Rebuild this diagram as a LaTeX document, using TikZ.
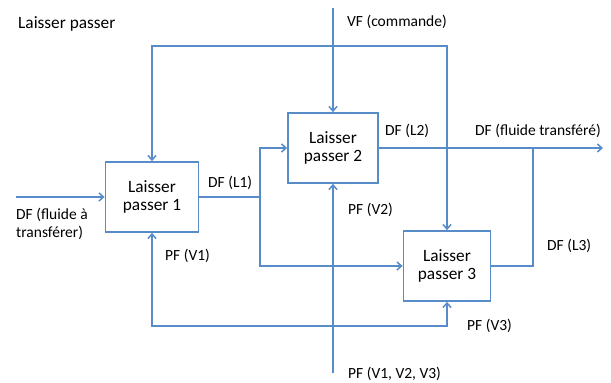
\documentclass[tikz,border=0pt]{standalone}
\usepackage{fontspec}
\setmainfont{Carlito}
\usetikzlibrary{arrows.meta}
\definecolor{lineblue}{RGB}{88,140,200}
\tikzset{
  wire/.style={draw=lineblue, line width=1.8pt},
  arr/.style={wire, -{Straight Barb[length=4.5pt,width=8pt,line width=1.5pt]}},
  barr/.style={wire, {Straight Barb[length=4.5pt,width=8pt,line width=1.5pt]}-{Straight Barb[length=4.5pt,width=8pt,line width=1.5pt]}},
  blk/.style={draw=lineblue, line width=1.8pt, fill=white, inner sep=0pt, align=center, font=\fontsize{17.3}{18.5}\selectfont},
  lbl/.style={anchor=west, inner sep=0pt, font=\fontsize{15.5}{18}\selectfont, align=left},
  ttl/.style={anchor=west, inner sep=0pt, font=\fontsize{17.3}{18.5}\selectfont}
}
\begin{document}
\begin{tikzpicture}[x=1pt,y=-1pt]
\useasboundingbox (0,0) rectangle (611,383);
% blocks
\node[blk, minimum width=93pt, minimum height=70pt] (b1) at (152,197) {Laisser\\passer 1};
\node[blk, minimum width=90pt, minimum height=70pt] (b2) at (333,148) {Laisser\\passer 2};
\node[blk, minimum width=87pt, minimum height=70pt] (b3) at (447,266) {Laisser\\passer 3};
% coordinates
\coordinate (in) at (16,197);
\coordinate (j1) at (260,197);
\coordinate (j1t) at (260,148);
\coordinate (j1b) at (260,266);
\coordinate (out) at (603,148);
\coordinate (j3) at (533,266);
\coordinate (j3t) at (533,148);
\coordinate (vf) at (333,8);
\coordinate (tl) at (152,46);
\coordinate (tr) at (447,46);
\coordinate (pf) at (333,373);
\coordinate (bl) at (152,326);
\coordinate (br) at (447,326);
% connectors
\draw[arr] (in) -- (b1.west);
\draw[wire] (b1.east) -- (j1);
\draw[arr] (j1) -- (j1t) -- (b2.west);
\draw[arr] (j1) -- (j1b) -- (b3.west);
\draw[arr] (b2.east) -- (out);
\draw[wire] (b3.east) -- (j3) -- (j3t);
\draw[arr] (vf) -- (b2.north);
\draw[barr] (b1.north) -- (tl) -- (tr) -- (b3.north);
\draw[arr] (pf) -- (b2.south);
\draw[barr] (b1.south) -- (bl) -- (br) -- (b3.south);
% labels
\node[ttl] (t0) at (18,24) {Laisser passer};
\node[lbl] (t1) at (347,22) {VF (commande)};
\node[lbl] (t2) at (385,131) {DF (L2)};
\node[lbl] (t3) at (475,131) {DF (fluide transféré)};
\node[lbl] (t4) at (208,183) {DF (L1)};
\node[lbl] (t5) at (16,223.5) {DF (fluide à\\transférer)};
\node[lbl] (t6) at (348,210) {PF (V2)};
\node[lbl] (t7) at (165,256) {PF (V1)};
\node[lbl] (t8) at (547,246) {DF (L3)};
\node[lbl] (t9) at (467,326) {PF (V3)};
\node[lbl] (t10) at (348,374) {PF (V1, V2, V3)};
\end{tikzpicture}
\end{document}
